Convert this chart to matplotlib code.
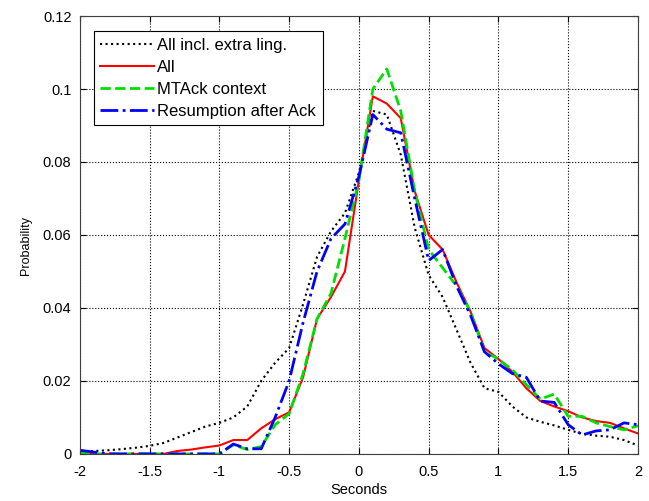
import numpy as np
import matplotlib
matplotlib.use("Agg")
import matplotlib.pyplot as plt

seconds = np.round(np.arange(-2.0, 2.01, 0.1), 2)

all_extra = [0.0005, 0.0008, 0.001, 0.0013, 0.0017, 0.0022, 0.003, 0.0045, 0.006, 0.0075,
             0.0085, 0.010, 0.013, 0.020, 0.025, 0.029, 0.041, 0.054, 0.061, 0.066,
             0.077, 0.094, 0.093, 0.082, 0.062, 0.049, 0.043, 0.034, 0.025, 0.018,
             0.017, 0.013, 0.010, 0.0088, 0.0078, 0.0066, 0.0055, 0.005, 0.0047, 0.0038,
             0.0023]
all_ = [0.0, 0.0, 0.0, 0.0, 0.0, 0.0, 0.0, 0.0008, 0.0012, 0.0018,
        0.0023, 0.0038, 0.0038, 0.007, 0.0095, 0.0114, 0.021, 0.037, 0.043, 0.050,
        0.075, 0.098, 0.096, 0.092, 0.072, 0.060, 0.056, 0.047, 0.039, 0.029,
        0.026, 0.0225, 0.018, 0.0145, 0.013, 0.0117, 0.010, 0.009, 0.0085, 0.007,
        0.0056]
mtack = [0.0005, 0.0, 0.0, 0.0, 0.0, 0.0, 0.0, 0.0, 0.0, 0.0,
         0.0, 0.0025, 0.0012, 0.002, 0.008, 0.011, 0.022, 0.037, 0.044, 0.059,
         0.075, 0.100, 0.1055, 0.094, 0.072, 0.056, 0.051, 0.046, 0.039, 0.028,
         0.026, 0.023, 0.019, 0.015, 0.0164, 0.0103, 0.0103, 0.0085, 0.0075, 0.0066,
         0.0077]
resumption = [0.001, 0.0005, 0.0, 0.0, 0.0, 0.0, 0.0, 0.0, 0.0, 0.0,
              0.0, 0.0027, 0.0014, 0.0014, 0.010, 0.020, 0.036, 0.050, 0.059, 0.063,
              0.076, 0.093, 0.089, 0.088, 0.070, 0.053, 0.056, 0.046, 0.038, 0.028,
              0.0247, 0.022, 0.021, 0.0145, 0.0141, 0.008, 0.0052, 0.0063, 0.0066, 0.0085,
              0.008]

plt.rcParams['font.family'] = ['Liberation Sans', 'DejaVu Sans']
plt.rcParams['font.size'] = 10.5

fig = plt.figure(figsize=(6.49, 5.01), dpi=100)
ax = fig.add_axes([0.123, 0.094, 0.860, 0.874])

ax.plot(seconds, all_extra, color='black', linestyle=':', linewidth=1.5, label='All incl. extra ling.')
ax.plot(seconds, all_, color='red', linestyle='-', linewidth=1.5, label='All')
ax.plot(seconds, mtack, color='#00e000', linestyle='--', linewidth=2, label='MTAck context')
ax.plot(seconds, resumption, color='blue', linestyle='-.', linewidth=2, label='Resumption after Ack')

ax.set_xlim(-2, 2)
ax.set_ylim(0, 0.12)
ax.set_xticks([-2, -1.5, -1, -0.5, 0, 0.5, 1, 1.5, 2])
ax.set_xticklabels(['-2', '-1.5', '-1', '-0.5', '0', '0.5', '1', '1.5', '2'])
ax.set_yticks([0, 0.02, 0.04, 0.06, 0.08, 0.1, 0.12])
ax.set_yticklabels(['0', '0.02', '0.04', '0.06', '0.08', '0.1', '0.12'])
ax.tick_params(direction='in', length=4, top=True, right=True, labelsize=10.5)
ax.tick_params(axis='x', pad=8)
ax.tick_params(axis='y', pad=6)
for sp in ax.spines.values():
    sp.set_color('#404040')
ax.grid(True, color='black', linestyle=':', linewidth=0.8)
ax.set_xlabel('Seconds', fontsize=10.5, labelpad=3)
ax.set_ylabel('Probability', fontsize=9)
ax.yaxis.set_label_coords(-0.085, 0.475)

leg = ax.legend(loc='upper left', bbox_to_anchor=(0.025, 0.966), fancybox=False,
                edgecolor='black', framealpha=1, fontsize=12, handlelength=3.2,
                handletextpad=0.2, labelspacing=0.42, borderpad=0.4, borderaxespad=0)
leg.get_frame().set_linewidth(0.8)

fig.savefig('out.png', dpi=100)
